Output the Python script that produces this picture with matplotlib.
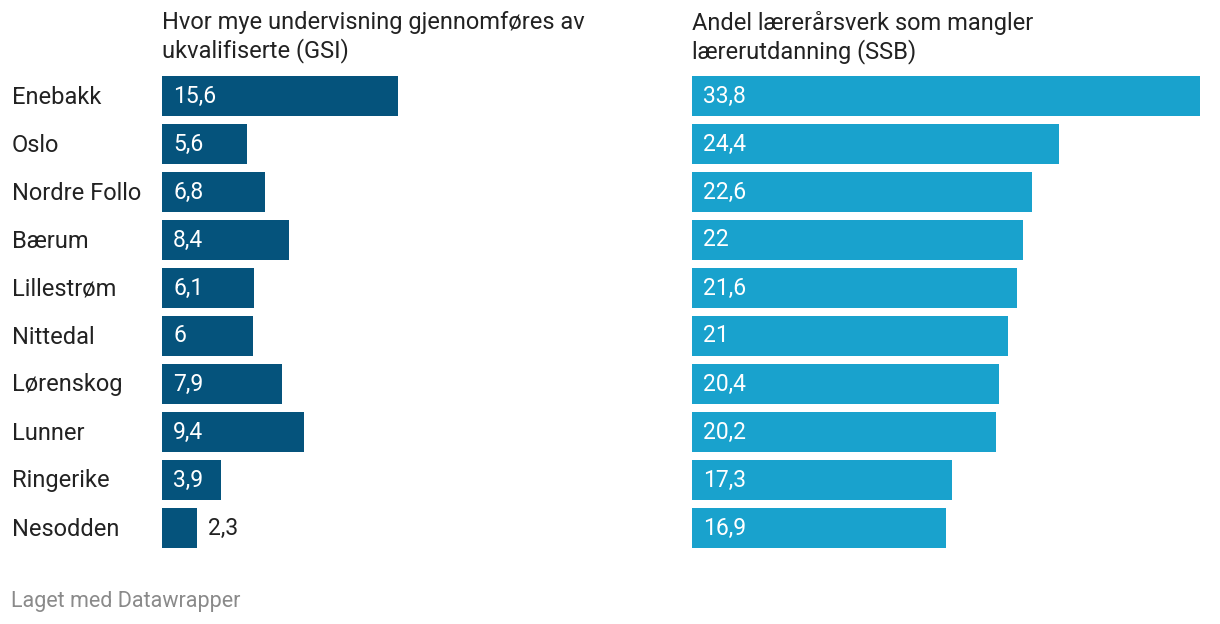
import matplotlib.pyplot as plt

plt.rcParams["font.family"] = ["Roboto", "DejaVu Sans"]

kommuner = ["Enebakk", "Oslo", "Nordre Follo", "Bærum", "Lillestrøm",
            "Nittedal", "Lørenskog", "Lunner", "Ringerike", "Nesodden"]
gsi = [15.6, 5.6, 6.8, 8.4, 6.1, 6.0, 7.9, 9.4, 3.9, 2.3]
ssb = [33.8, 24.4, 22.6, 22.0, 21.6, 21.0, 20.4, 20.2, 17.3, 16.9]

titles = ["Hvor mye undervisning gjennomføres av\nukvalifiserte (GSI)",
          "Andel lærerårsverk som mangler\nlærerutdanning (SSB)"]
colors = ["#05537c", "#19a2cd"]

W, H = 1220, 624
fig = plt.figure(figsize=(W / 100, H / 100), dpi=100)


def fmt(v):
    s = f"{v:.1f}".replace(".", ",")
    return s[:-2] if s.endswith(",0") else s


def panel(x0, x1, values, color, title):
    # axes in pixel units: rows 48 px apart, bars 40 px tall, first row top at 76
    top, bottom = 72, 552
    ax = fig.add_axes([x0 / W, 1 - bottom / H, (x1 - x0) / W, (bottom - top) / H])
    ax.barh(range(len(values)), values, height=40 / 48, color=color)
    ax.set_xlim(0, max(values))
    ax.set_ylim(len(values) - 0.5, -0.5)
    ax.axis("off")
    for i, v in enumerate(values):
        bar_px = (x1 - x0) * v / max(values)
        if bar_px > 55:
            ax.annotate(fmt(v), (0, i), xytext=(8, 0), textcoords="offset points",
                        va="center", ha="left", color="white", fontsize=16.5)
        else:
            ax.annotate(fmt(v), (v, i), xytext=(8, 0), textcoords="offset points",
                        va="center", ha="left", color="#222222", fontsize=16.5)
    fig.text(x0 / W, 1 - 11 / H, title, ha="left", va="top", fontsize=17,
             color="#222222", linespacing=1.2)
    return ax


panel(162, 398, gsi, colors[0], titles[0])
panel(692, 1200, ssb, colors[1], titles[1])

for i, name in enumerate(kommuner):
    fig.text(12 / W, 1 - (97 + 48 * i) / H, name, ha="left", va="center",
             fontsize=17, color="#222222")

fig.text(11 / W, 1 - 601 / H, "Laget med Datawrapper", ha="left", va="center",
         fontsize=15.5, color="#8a8a8a")

fig.savefig("out.png", dpi=100)
